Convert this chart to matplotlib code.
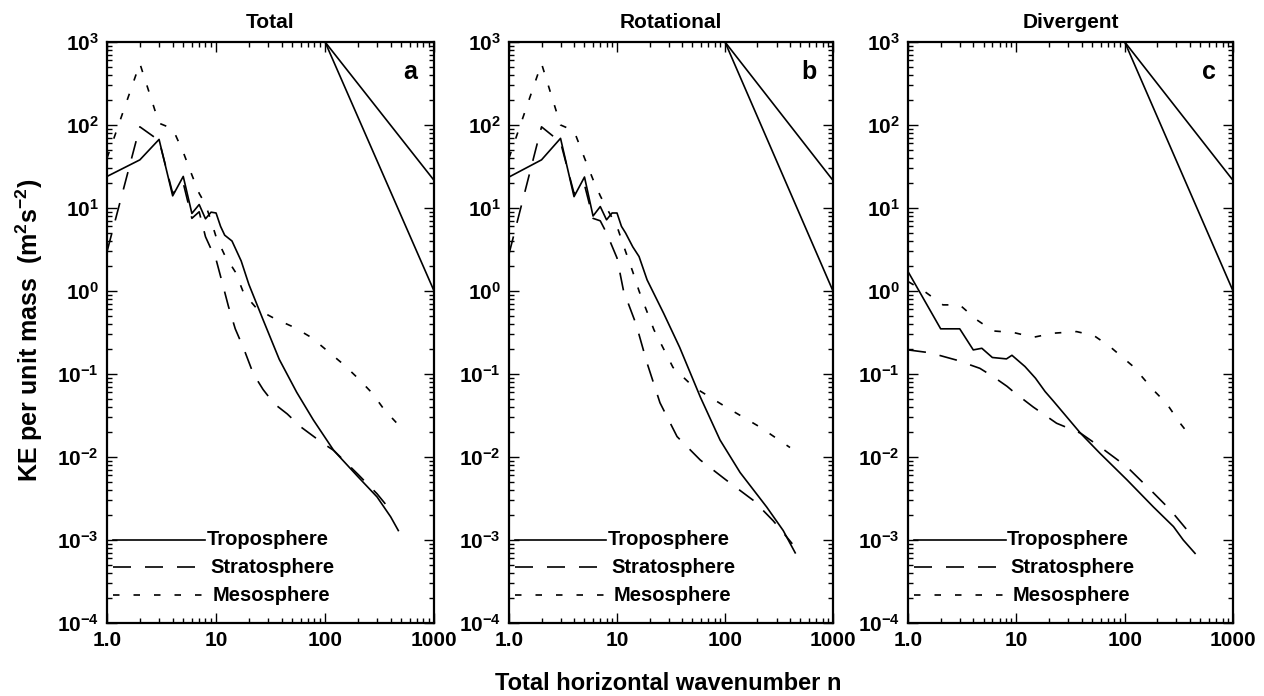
import numpy as np
import matplotlib
matplotlib.use('Agg')
import matplotlib.pyplot as plt
from matplotlib.ticker import LogLocator, FixedLocator, FixedFormatter, NullFormatter

plt.rcParams['font.family'] = ['Liberation Sans', 'DejaVu Sans']
plt.rcParams['font.weight'] = 'bold'
plt.rcParams['mathtext.default'] = 'regular'

# ---- data (n, KE) ----
titles = ['Total', 'Rotational', 'Divergent']
letters = ['a', 'b', 'c']

# Total
a_tropo_n = [1, 2, 3, 4, 5, 6, 7, 8, 9, 10, 11, 12, 14, 17, 20, 27, 38, 55, 78, 120, 200, 300, 400, 470]
a_tropo_e = [24, 38, 67, 14, 24, 8.6, 11, 7.4, 8.9, 8.7, 6, 4.7, 4.0, 2.3, 1.2, 0.45, 0.15, 0.06, 0.028,
             0.012, 0.0058, 0.0033, 0.0019, 0.0013]
a_strat_n = [1, 2, 3, 4, 5, 6, 7, 8, 9, 10, 11, 13, 15, 18, 22, 27, 34, 45, 60, 93, 120, 200, 300, 420]
a_strat_e = [3, 95, 65, 15, 20, 7.5, 9, 4.5, 3.2, 2.4, 1.5, 0.65, 0.35, 0.2, 0.1, 0.065, 0.044, 0.033,
             0.023, 0.015, 0.012, 0.0062, 0.0036, 0.0021]
a_meso_n = [1, 2, 3, 4, 5, 6, 7, 8, 9, 10, 12, 15, 18, 24, 35, 52, 75, 105, 150, 200, 270, 350, 450]
a_meso_e = [40, 550, 105, 90, 47, 25, 15, 11, 7, 4.5, 2.7, 1.7, 0.93, 0.6, 0.46, 0.365, 0.275, 0.19,
            0.128, 0.089, 0.059, 0.037, 0.026]

# Rotational
b_tropo_n = [1, 2, 3, 4, 5, 6, 7, 8, 9, 10, 11, 12, 14, 16, 19, 27, 38, 59, 90, 138, 243, 346, 447]
b_tropo_e = [23.6, 38, 69, 13.7, 23.6, 8, 10.4, 7.2, 8.7, 8.7, 6, 5, 3.4, 2.6, 1.36, 0.54, 0.21, 0.053,
             0.016, 0.0065, 0.0025, 0.0013, 0.0007]
b_strat_n = [1, 2, 3, 4, 5, 6, 7, 8, 10, 11.5, 15, 19, 25, 36, 59, 102, 183, 280, 370, 420]
b_strat_e = [2.8, 95, 62, 15, 19, 7.5, 7, 5, 2.5, 1.0, 0.4, 0.135, 0.045, 0.0176, 0.0092, 0.0053,
             0.003, 0.0017, 0.0011, 0.0009]
b_meso_n = [1, 2, 3, 4, 5, 6, 7, 8, 10, 12, 14, 16, 22, 33, 51, 102, 210, 400]
b_meso_e = [40, 550, 100, 85, 40, 22, 14, 10, 6, 3, 1.7, 1.0, 0.34, 0.12, 0.07, 0.04, 0.023, 0.013]

# Divergent
c_tropo_n = [1, 2, 3, 4, 4.8, 6, 8.1, 9.1, 12, 15, 18.4, 22, 39, 59, 105, 184, 282, 347, 446]
c_tropo_e = [1.71, 0.35, 0.35, 0.195, 0.204, 0.158, 0.152, 0.168, 0.123, 0.089, 0.0615, 0.047,
             0.0194, 0.0111, 0.0053, 0.0025, 0.00145, 0.001, 0.00069]
c_strat_n = [1, 1.6, 2.8, 4.6, 6.1, 8.2, 9.7, 14.3, 23.5, 39, 59, 105, 184, 264, 400]
c_strat_e = [0.195, 0.18, 0.147, 0.117, 0.093, 0.071, 0.059, 0.04, 0.0255, 0.0194, 0.0133, 0.0076,
             0.0037, 0.0023, 0.0012]
c_meso_n = [1, 1.4, 2.1, 3, 4.3, 6.1, 9.4, 14.4, 22, 36, 52, 73, 120, 184, 244, 325, 415]
c_meso_e = [1.3, 1.0, 0.68, 0.68, 0.45, 0.33, 0.316, 0.277, 0.31, 0.324, 0.29, 0.214, 0.123, 0.064,
            0.044, 0.0255, 0.017]

# reference slopes (n^-5/3 and n^-3), drawn from n=100 to n=1000
ref_n = [100, 1000]
ref_53 = [1000, 21.5]
ref_3 = [1000, 1]

panels = [
    [(a_tropo_n, a_tropo_e), (a_strat_n, a_strat_e), (a_meso_n, a_meso_e)],
    [(b_tropo_n, b_tropo_e), (b_strat_n, b_strat_e), (b_meso_n, b_meso_e)],
    [(c_tropo_n, c_tropo_e), (c_strat_n, c_strat_e), (c_meso_n, c_meso_e)],
]
names = ['Troposphere', 'Stratosphere', 'Mesosphere']
styles = ['-', (0, (10.8, 8.4)), (0, (3.9, 8.4))]

fig = plt.figure(figsize=(12.64, 6.96), dpi=100)
lefts = [0.0847, 0.4027, 0.7184]
widths = [0.2587, 0.2563, 0.2571]
lw = 1.2

for i in range(3):
    ax = fig.add_axes([lefts[i], 0.1049, widths[i], 0.8348])
    for (n, e), ls in zip(panels[i], styles):
        ax.plot(n, e, color='black', lw=lw, linestyle=ls)
    ax.plot(ref_n, ref_53, color='black', lw=lw)
    ax.plot(ref_n, ref_3, color='black', lw=lw)

    ax.set_xscale('log')
    ax.set_yscale('log')
    ax.set_xlim(1, 1000)
    ax.set_ylim(1e-4, 1e3)

    ax.xaxis.set_major_locator(FixedLocator([1, 10, 100, 1000]))
    ax.xaxis.set_major_formatter(FixedFormatter(['1.0', '10', '100', '1000']))
    ax.xaxis.set_minor_locator(LogLocator(base=10, subs=np.arange(2, 10)))
    ax.xaxis.set_minor_formatter(NullFormatter())
    yt = [1e-4, 1e-3, 1e-2, 1e-1, 1, 10, 100, 1000]
    ax.yaxis.set_major_locator(FixedLocator(yt))
    ax.yaxis.set_major_formatter(FixedFormatter(['10$^{-4}$', '10$^{-3}$', '10$^{-2}$', '10$^{-1}$',
                                                 '10$^{0}$', '10$^{1}$', '10$^{2}$', '10$^{3}$']))
    ax.yaxis.set_minor_locator(LogLocator(base=10, subs=np.arange(2, 10), numticks=20))
    ax.yaxis.set_minor_formatter(NullFormatter())
    ax.tick_params(which='both', direction='in', top=True, right=True, width=1.0)
    ax.tick_params(which='major', length=7, labelsize=15, pad=6)
    ax.tick_params(which='minor', length=3.5)
    for sp in ax.spines.values():
        sp.set_linewidth(1.6)

    ax.set_title(titles[i], fontsize=15, fontweight='bold', pad=10)
    ax.text(0.927, 0.948, letters[i], transform=ax.transAxes, fontsize=18, fontweight='bold',
            ha='center', va='center')

    # legend drawn inside lower left
    for yy, xt, ls, nm in zip([0.143, 0.096, 0.048], [0.305, 0.315, 0.322], styles, names):
        ax.plot([0.018, 0.30], [yy, yy], transform=ax.transAxes, color='black', lw=lw, linestyle=ls)
        ax.text(xt, yy, nm, transform=ax.transAxes, fontsize=14.5, fontweight='bold',
                ha='left', va='center')

fig.text(0.023, 0.525, 'KE per unit mass  (m$^2$s$^{-2}$)', rotation=90, fontsize=18, fontweight='bold',
         ha='center', va='center')
fig.text(0.529, 0.018, 'Total horizontal wavenumber n', fontsize=17, fontweight='bold',
         ha='center', va='center')

fig.savefig('out.png', dpi=100)
